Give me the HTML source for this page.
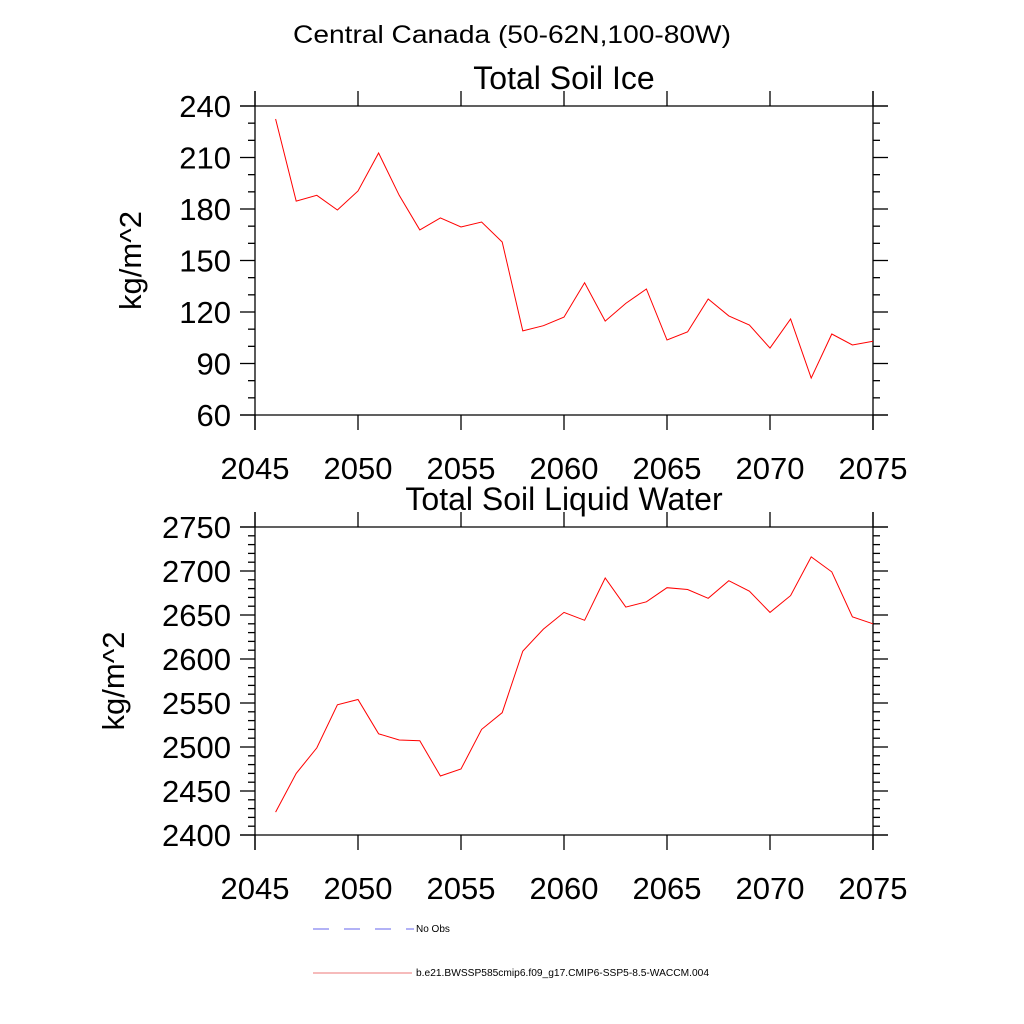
<!DOCTYPE html>
<html><head><meta charset="utf-8"><style>
body{margin:0;background:#fff;}
svg{display:block;font-family:"Liberation Sans",Arial,sans-serif;}
</style></head><body>
<svg id="c" width="1024" height="1024" viewBox="0 0 1024 1024">
<text x="512" y="43" font-size="25" text-anchor="middle" textLength="438" lengthAdjust="spacingAndGlyphs">Central Canada (50-62N,100-80W)</text>
<g>
<line x1="313" y1="929" x2="414" y2="929" stroke="#6666ee" stroke-width="1" stroke-dasharray="16,15"/>
<text x="416" y="932" font-size="10">No Obs</text>
<line x1="313" y1="973" x2="412" y2="973" stroke="#ee7777" stroke-width="1"/>
<text x="416" y="976" font-size="10" textLength="293" lengthAdjust="spacingAndGlyphs">b.e21.BWSSP585cmip6.f09_g17.CMIP6-SSP5-8.5-WACCM.004</text>
</g>
</svg>
<script>
const years = [2046,2047,2048,2049,2050,2051,2052,2053,2054,2055,2056,2057,2058,2059,2060,2061,2062,2063,2064,2065,2066,2067,2068,2069,2070,2071,2072,2073,2074,2075];
const iceValues = [232.4,184.6,188,179.4,190.5,212.6,188,167.8,174.8,169.5,172.4,160.8,109,112,117,137,114.7,125,133.4,103.7,108.4,127.6,117.7,112.4,99,116,81.5,107.2,100.8,103];
const liquidValues = [2426,2470,2499,2548,2554,2515,2508,2507,2467,2475,2520,2539,2609,2634,2653,2644,2692,2659,2665,2681,2679,2669,2689,2677,2653,2672,2716,2699,2648,2640];
const xTicks = [2045,2050,2055,2060,2065,2070,2075];
const iceYTicks = [60,90,120,150,180,210,240];
const liquidYTicks = [2400,2450,2500,2550,2600,2650,2700,2750];

const NS='http://www.w3.org/2000/svg';
const svg=document.getElementById('c');
function mk(tag,attrs,parent){const e=document.createElementNS(NS,tag);for(const k in attrs)e.setAttribute(k,attrs[k]);(parent||svg).appendChild(e);return e;}

function panel(cfg){
  const g=mk('g',{});
  
  
  const L=255,R=873,T=cfg.top,B=cfg.bottom;
  const x=v=>L+(v-2045)/(2075-2045)*(R-L);
  const y=v=>B-(v-cfg.min)/(cfg.max-cfg.min)*(B-T);
  const st={stroke:'#000','stroke-width':1.3,fill:'none'};
  mk('line',Object.assign({x1:240,y1:T,x2:888,y2:T},st),g);
  mk('line',Object.assign({x1:240,y1:B,x2:888,y2:B},st),g);
  mk('line',Object.assign({x1:L,y1:T-15,x2:L,y2:B+15},st),g);
  mk('line',Object.assign({x1:R,y1:T-15,x2:R,y2:B+15},st),g);
  xTicks.forEach(t=>{
    const X=x(t);
    mk('line',Object.assign({x1:X,y1:T-15,x2:X,y2:T},st),g);
    mk('line',Object.assign({x1:X,y1:B,x2:X,y2:B+15},st),g);
    const tx=mk('text',{x:X,y:B+64,'font-size':31,'text-anchor':'middle'},g);
    
    
    tx.textContent=t;
  });
  for(let v=cfg.min;v<=cfg.max+1e-9;v+=cfg.minor){
    const Y=y(v);const major=cfg.ticks.includes(v);
    const len=major?15:7;
    mk('line',Object.assign({x1:L-len,y1:Y,x2:L,y2:Y},st),g);
    mk('line',Object.assign({x1:R,y1:Y,x2:R+len,y2:Y},st),g);
  }
  cfg.ticks.forEach(t=>{
    const tx=mk('text',{x:231,y:y(t)+11,'font-size':31,'text-anchor':'end'},g);
    
    
    tx.textContent=t;
  });
  const ti=mk('text',{x:564,y:T-17,'font-size':32,'text-anchor':'middle'},g);
  
  
  ti.textContent=cfg.title;
  const yt=mk('text',{x:0,y:0,'font-size':31,'text-anchor':'middle',transform:`translate(${cfg.ytx},${(T+B)/2}) rotate(-90)`},g);
  
  
  yt.textContent='kg/m^2';
  const pts=years.map((yr,i)=>x(yr).toFixed(1)+','+y(cfg.values[i]).toFixed(1)).join(' ');
  const pl=mk('polyline',{points:pts,fill:'none',stroke:'#ff0000','stroke-width':1},g);
  
  
}
panel({name:'soil-ice-panel',title:'Total Soil Ice',top:106,bottom:415,min:60,max:240,minor:10,ticks:iceYTicks,values:iceValues,ytx:141});
panel({name:'soil-liquid-panel',title:'Total Soil Liquid Water',top:527,bottom:835,min:2400,max:2750,minor:10,ticks:liquidYTicks,values:liquidValues,ytx:124});
</script>
</body></html>
